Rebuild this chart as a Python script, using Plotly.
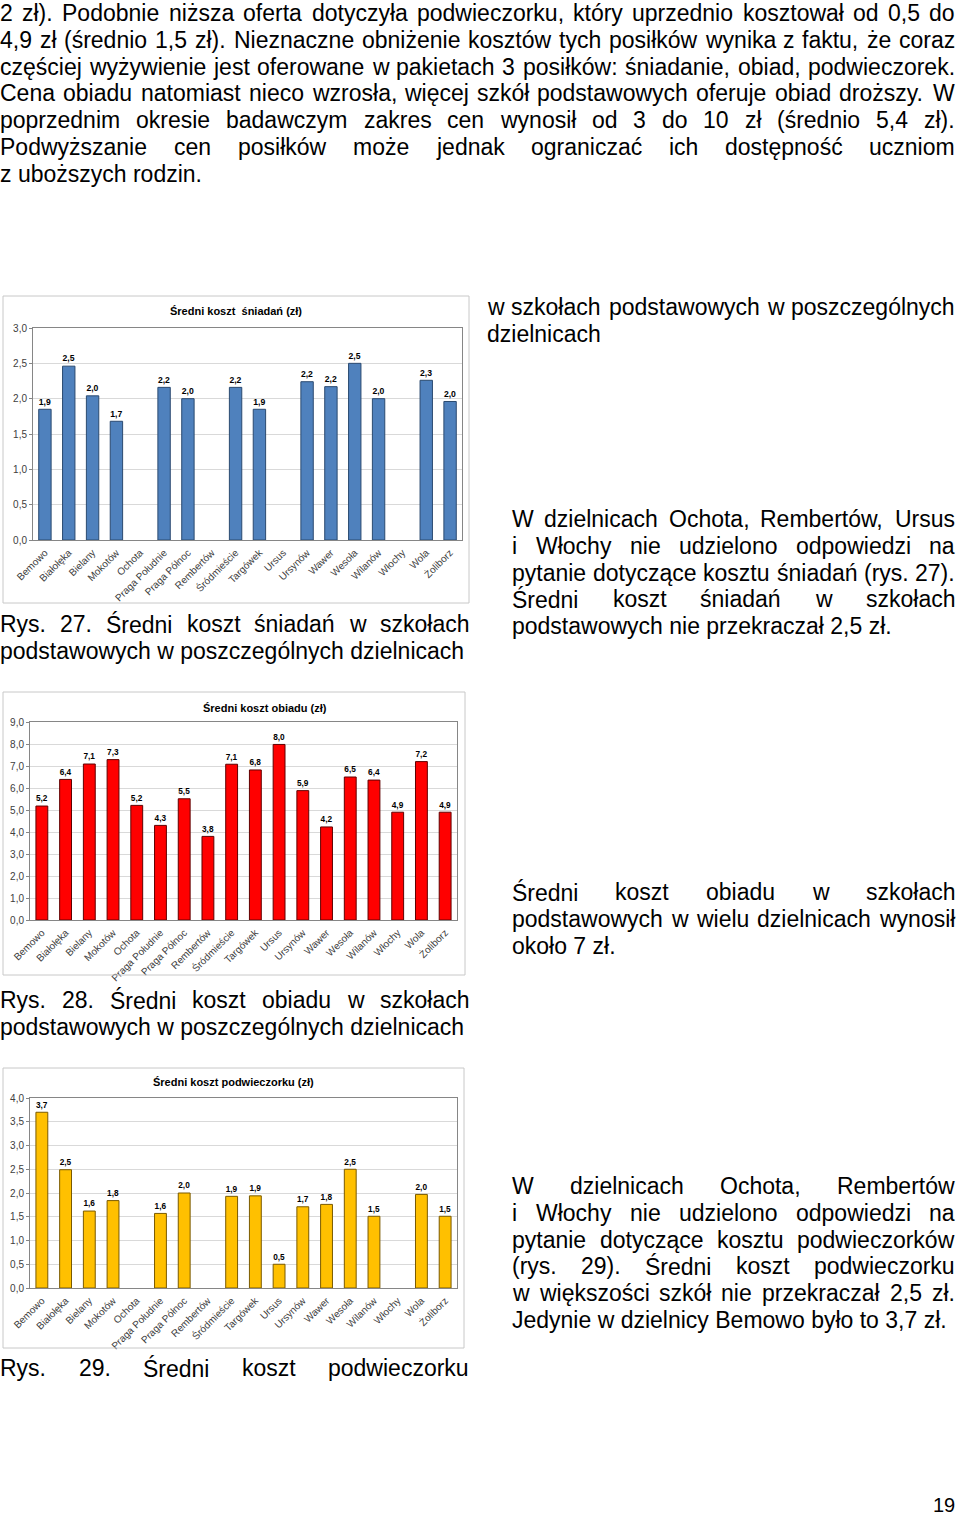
import plotly.graph_objects as go

W, H = 960, 1519

districts = ["Bemowo", "Białołęka", "Bielany", "Mokotów", "Ochota", "Praga Południe",
             "Praga Północ", "Rembertów", "Śródmieście", "Targówek", "Ursus", "Ursynów",
             "Wawer", "Wesoła", "Wilanów", "Włochy", "Wola", "Żoliborz"]

# average cost in zł, None = no answer
breakfast = [1.85, 2.46, 2.04, 1.68, None, 2.16, 2.00, None, 2.16, 1.85, None, 2.24,
             2.17, 2.50, 2.00, None, 2.26, 1.96]
lunch = [5.18, 6.39, 7.09, 7.29, 5.21, 4.30, 5.51, 3.80, 7.08, 6.82, 7.98, 5.88,
         4.23, 6.50, 6.36, 4.90, 7.20, 4.90]
snack = [3.70, 2.49, 1.62, 1.84, None, 1.57, 2.00, None, 1.93, 1.94, 0.50, 1.71,
         1.76, 2.50, 1.51, None, 1.97, 1.51]

chart_titles = ["Średni koszt  śniadań (zł)", "Średni koszt obiadu (zł)", "Średni koszt podwieczorku (zł)"]

# page text: (line, justified)
top_text = [
    ("2 zł). Podobnie niższa oferta dotyczyła podwieczorku, który uprzednio kosztował od 0,5 do", True),
    ("4,9 zł (średnio 1,5 zł). Nieznaczne obniżenie kosztów tych posiłków wynika z faktu, że coraz", True),
    ("częściej wyżywienie jest oferowane w pakietach 3 posiłków: śniadanie, obiad, podwieczorek.", True),
    ("Cena obiadu natomiast nieco wzrosła, więcej szkół podstawowych oferuje obiad droższy. W", True),
    ("poprzednim okresie badawczym zakres cen wynosił od 3 do 10 zł (średnio 5,4 zł).", True),
    ("Podwyższanie cen posiłków może jednak ograniczać ich dostępność uczniom", True),
    ("z uboższych rodzin.", False),
]
side1 = [("w szkołach podstawowych w poszczególnych", True), ("dzielnicach", False)]
side2 = [
    ("W dzielnicach Ochota, Rembertów, Ursus", True),
    ("i Włochy nie udzielono odpowiedzi na", True),
    ("pytanie dotyczące kosztu śniadań (rys. 27).", True),
    ("Średni koszt śniadań w szkołach", True),
    ("podstawowych nie przekraczał 2,5 zł.", False),
]
cap27 = [("Rys. 27. Średni koszt śniadań w szkołach", True),
         ("podstawowych w poszczególnych dzielnicach", False)]
side3 = [
    ("Średni koszt obiadu w szkołach", True),
    ("podstawowych w wielu dzielnicach wynosił", True),
    ("około 7 zł.", False),
]
cap28 = [("Rys. 28. Średni koszt obiadu w szkołach", True),
         ("podstawowych w poszczególnych dzielnicach", False)]
side4 = [
    ("W dzielnicach Ochota, Rembertów", True),
    ("i Włochy nie udzielono odpowiedzi na", True),
    ("pytanie dotyczące kosztu podwieczorków", True),
    ("(rys. 29). Średni koszt podwieczorku", True),
    ("w większości szkół nie przekraczał 2,5 zł.", True),
    ("Jedynie w dzielnicy Bemowo było to 3,7 zł.", False),
]
cap29 = [("Rys. 29. Średni koszt podwieczorku", True)]

# Arial advance widths (per 1000 em), for justifying lines
AW = {}
for w, chars in [(222, "ijlł"), (278, " ,.:;!ftI/"), (333, "()-r"), (500, "cksvxyzćśźżJ"),
                 (556, "abdeghnopquąęńó0123456789LŁ"), (611, "FTZŻ"), (667, "ABEKPSVXYŚ"),
                 (722, "CDHNRUw"), (778, "GOQ"), (833, "mM"), (944, "W")]:
    for c in chars:
        AW[c] = w


def tw(s, fs):
    return sum(AW.get(c, 556) for c in s) * fs / 1000


def px(x):
    return x / W


def py(y):
    return 1 - y / H


FS = 23
FONT = "Liberation Sans, Arial, sans-serif"
notes = []


def word(text, x, y, anchor="left", size=FS):
    notes.append(dict(text=text, x=px(x), y=py(y), xref="paper", yref="paper",
                      xanchor=anchor, yanchor="middle", showarrow=False,
                      borderpad=0, borderwidth=0,
                      font=dict(family=FONT, size=size, color="black")))


def block(lines, x0, x1, y0, step=26.8):
    for i, (line, just) in enumerate(lines):
        y = y0 + i * step
        words = line.split(" ")
        if not just or len(words) < 2:
            word(line, x0, y)
            continue
        widths = [tw(wd, FS) for wd in words]
        gap = (x1 - x0 - sum(widths)) / (len(words) - 1)
        x = x0
        for j, wd in enumerate(words):
            if j == len(words) - 1:
                word(wd, x1, y, "right")
            else:
                word(wd, x, y)
            x += widths[j] + gap


block(top_text, 0, 955, 13)
block(side1, 487, 955, 307)
block(side2, 512, 955, 519)
block(cap27, 0, 469, 624)
block(side3, 512, 955, 892)
block(cap28, 0, 469, 1000)
block(side4, 512, 955, 1186)
block(cap29, 0, 469, 1368)
word("19", 955, 1505, "right", 20)

fig = go.Figure()

series = [breakfast, lunch, snack]
fills = ["#4F81BD", "#FF0000", "#FFC000"]
edges = ["#2B4A70", "#600000", "#7A5A00"]
ymax = [3.0, 9.0, 4.0]
dticks = [0.5, 1.0, 0.5]
bar_w = [0.52, 0.5, 0.5]
plot_box = [(33, 462, 328, 540), (30, 457, 722, 920), (30, 457, 1098, 1288)]
frame_box = [(3, 469, 296, 603), (3, 465, 692, 975), (3, 464, 1068, 1348)]
title_pos = [(236, 311), (265, 708), (233, 1082)]

shapes = []
for i in range(3):
    n = "" if i == 0 else str(i + 1)
    vals = series[i]
    labels = ["<b>" + f"{v:.1f}".replace(".", ",") + "</b>" if v is not None else "" for v in vals]
    fig.add_trace(go.Bar(
        x=districts, y=vals, text=labels, textposition="outside", cliponaxis=False,
        textfont=dict(family=FONT, size=10, color="black"),
        width=bar_w[i], marker=dict(color=fills[i], line=dict(color=edges[i], width=1)),
        xaxis="x" + n, yaxis="y" + n, showlegend=False, hoverinfo="skip"))
    l, r, t, b = plot_box[i]
    axis_common = dict(showline=True, linecolor="#868686", linewidth=1, mirror=True,
                       automargin=False,
                       tickfont=dict(family=FONT, size=10, color="#404040"))
    fig.update_layout(**{
        "xaxis" + n: dict(domain=[px(l), px(r)], anchor="y" + n, type="category",
                          tickangle=-45, ticks="outside", ticklen=2, tickcolor="white",
                          showgrid=False, **axis_common),
        "yaxis" + n: dict(domain=[py(b), py(t)], anchor="x" + n, range=[0, ymax[i]],
                          dtick=dticks[i], tickformat=".1f", showgrid=True,
                          ticks="outside", ticklen=3, tickcolor="#868686",
                          gridcolor="#D9D9D9", zeroline=False, **axis_common),
    })
    fl, fr, ft, fb = frame_box[i]
    shapes.append(dict(type="rect", xref="paper", yref="paper", x0=px(fl), x1=px(fr),
                       y0=py(fb), y1=py(ft), line=dict(color="#C8C8C8", width=1)))
    tx, ty = title_pos[i]
    notes.append(dict(text="<b>" + chart_titles[i] + "</b>", x=px(tx), y=py(ty),
                      xref="paper", yref="paper", showarrow=False,
                      xanchor="center", yanchor="middle",
                      font=dict(family=FONT, size=11, color="black")))

fig.update_layout(width=W, height=H, margin=dict(l=0, r=0, t=0, b=0, pad=0, autoexpand=False),
                  paper_bgcolor="white", plot_bgcolor="white", separators=",.",
                  annotations=notes, shapes=shapes, font=dict(family=FONT))

fig.write_html("out.html", config={"displayModeBar": False},
               post_script="document.body.style.margin='0px';")
